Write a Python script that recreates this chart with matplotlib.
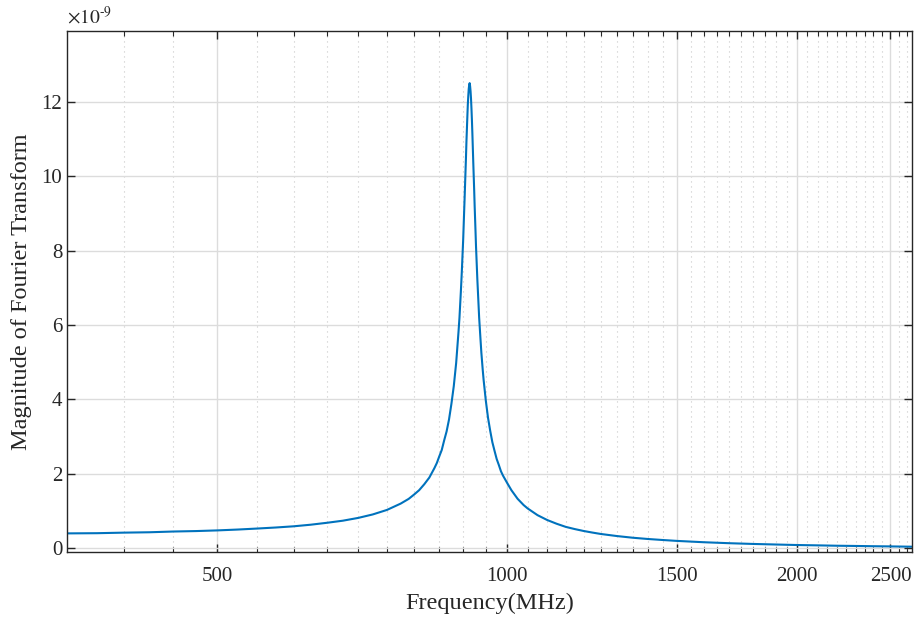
import numpy as np
import matplotlib.pyplot as plt
from matplotlib.ticker import FixedLocator, NullFormatter

# frequency (MHz) and magnitude (x1e-9)
freq = [350, 375, 400, 425, 450, 475, 500, 525, 550, 575, 600, 625, 650, 675,
        700, 725, 750, 775, 790, 800, 810, 820, 830, 840, 845, 850, 855, 860,
        865, 870, 875, 880, 885, 890, 892, 895, 897, 900, 902, 903, 906, 907,
        909, 910, 911, 912, 913, 914, 915, 916, 917, 918, 919, 920, 922, 924,
        925, 927, 928, 931, 933, 935, 938, 940, 943, 945, 950, 955, 960, 965,
        970, 975, 980, 985, 990, 1000, 1010, 1025, 1040, 1050, 1075, 1100, 1125,
        1150, 1175, 1200, 1225, 1250, 1275, 1300, 1350, 1400, 1450, 1500, 1600,
        1700, 1800, 1900, 2000, 2100, 2200, 2300, 2400, 2500, 2630]
mag = [0.40, 0.405, 0.42, 0.43, 0.45, 0.462, 0.48, 0.503, 0.53, 0.558, 0.59,
       0.633, 0.685, 0.741, 0.815, 0.909, 1.03, 1.20, 1.327, 1.44, 1.56, 1.72,
       1.90, 2.15, 2.29, 2.47, 2.64, 2.90, 3.14, 3.46, 3.88, 4.36, 4.98, 5.82,
       6.19, 6.90, 7.42, 8.30, 9.03, 9.38, 10.50, 10.92, 11.60, 11.92, 12.15,
       12.34, 12.45, 12.50, 12.42, 12.28, 12.08, 11.81, 11.50, 11.14, 10.35,
       9.61, 9.20, 8.49, 8.12, 7.22, 6.71, 6.20, 5.62, 5.25, 4.80, 4.53, 3.97,
       3.51, 3.16, 2.85, 2.62, 2.40, 2.24, 2.07, 1.95, 1.75, 1.56, 1.33, 1.16,
       1.07, 0.89, 0.76, 0.66, 0.575, 0.516, 0.465, 0.423, 0.385, 0.356, 0.328,
       0.283, 0.249, 0.222, 0.198, 0.162, 0.136, 0.116, 0.101, 0.087, 0.078,
       0.068, 0.062, 0.055, 0.05, 0.042]

xmajor = [500, 1000, 1500, 2000, 2500]
xminor = [f for f in range(400, 2650, 50) if f not in xmajor]
yticks = [0, 2, 4, 6, 8, 10, 12]

plt.rcParams['font.family'] = ['Liberation Serif', 'DejaVu Serif']
plt.rcParams['mathtext.fontset'] = 'stix'

fig = plt.figure(figsize=(9.14, 6.2), dpi=100)
ax = fig.add_axes([0.0733, 0.1097, 0.9245, 0.8403])

ax.plot(freq, mag, color='#0072BD', lw=1.5)

ax.set_xscale('log')
ax.set_xlim(349, 2632)
ax.set_ylim(-0.1, 13.9)

ax.xaxis.set_major_locator(FixedLocator(xmajor))
ax.xaxis.set_major_formatter(plt.FixedFormatter([str(v) for v in xmajor]))
ax.xaxis.set_minor_locator(FixedLocator(xminor))
ax.xaxis.set_minor_formatter(NullFormatter())
ax.set_yticks(yticks)
ax.set_yticklabels([str(v) for v in yticks])

ax.grid(True, which='major', color='#dcdcdc', lw=1.0, ls='-')
ax.grid(True, which='minor', axis='x', color='#c8c8c8', lw=0.8, ls=(0, (1, 3.5)))
ax.set_axisbelow(True)

for s in ax.spines.values():
    s.set_color('#262626')
    s.set_linewidth(1.0)
ax.tick_params(which='both', direction='in', top=True, right=True,
               colors='#262626', labelsize=15)
ax.tick_params(which='major', length=6, width=1.0)
ax.tick_params(which='minor', length=3.5, width=0.8)
ax.tick_params(axis='x', pad=11)

ax.set_xlabel('Frequency(MHz)', fontsize=17.5, color='#262626', labelpad=5)
ax.set_ylabel('Magnitude of Fourier Transform', fontsize=17.5, color='#262626', labelpad=7)
ax.text(0.0, 1.006, r'$\times10^{\text{-9}}$', transform=ax.transAxes,
        fontsize=14, color='#262626', ha='left', va='bottom')

fig.savefig('out.png', dpi=100)
